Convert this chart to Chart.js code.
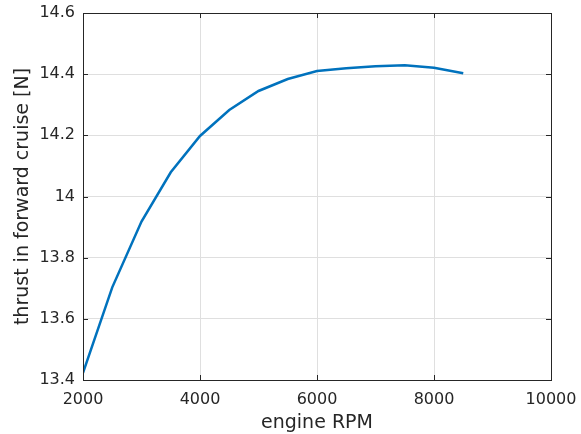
<!DOCTYPE html>
<html>
  <head>
    <title>thrust vs engine RPM</title>
    <script src="https://cdn.jsdelivr.net/npm/chart.js"></script>
    <style>
      body {
        margin: 0;
        padding: 0;
        background: #ffffff;
      }
      #wrap {
        width: 581px;
        height: 434px;
      }
    </style>
  </head>
  <body>
    <div id="wrap"><canvas id="myChart"></canvas></div>
    <script>
      // engine speed samples and resulting cruise thrust
      const rpm = [2000, 2500, 3000, 3500, 4000, 4500, 5000, 5500, 6000, 6500, 7000, 7500, 8000, 8500];
      const thrust = [13.423, 13.703, 13.918, 14.079, 14.198, 14.283, 14.345, 14.384, 14.410, 14.419, 14.426, 14.429, 14.421, 14.403];
      const xTicks = [2000, 4000, 6000, 8000, 10000];
      const yTicks = [13.4, 13.6, 13.8, 14, 14.2, 14.4, 14.6];

      const axisColor = "#262626";
      const fontFamily = "'DejaVu Sans', sans-serif";

      // box around the axes plus inward tick marks (matlab look)
      const boxPlugin = {
        id: "box",
        afterDraw(chart) {
          const { ctx, chartArea: a, scales } = chart;
          const len = 5;
          ctx.save();
          ctx.strokeStyle = axisColor;
          ctx.lineWidth = 1;
          ctx.beginPath();
          xTicks.forEach((v) => {
            const px = Math.round(scales.x.getPixelForValue(v)) + 0.5;
            ctx.moveTo(px, a.bottom);
            ctx.lineTo(px, a.bottom - len);
            ctx.moveTo(px, a.top);
            ctx.lineTo(px, a.top + len);
          });
          yTicks.forEach((v) => {
            const py = Math.round(scales.y.getPixelForValue(v)) + 0.5;
            ctx.moveTo(a.left, py);
            ctx.lineTo(a.left + len, py);
            ctx.moveTo(a.right, py);
            ctx.lineTo(a.right - len, py);
          });
          ctx.stroke();
          ctx.strokeRect(Math.round(a.left) + 0.5, Math.round(a.top) + 0.5,
            Math.round(a.right - a.left), Math.round(a.bottom - a.top));
          ctx.restore();
        },
      };

      const ctx = document.getElementById("myChart").getContext("2d");
      new Chart(ctx, {
        type: "line",
        data: {
          datasets: [
            {
              data: rpm.map((r, i) => ({ x: r, y: thrust[i] })),
              borderColor: "#0072BD",
              borderWidth: 2.5,
              pointRadius: 0,
              tension: 0,
              fill: false,
            },
          ],
        },
        options: {
          responsive: true,
          maintainAspectRatio: false,
          animation: false,
          layout: {
            padding: { left: 0, right: 30, top: 13, bottom: 0 },
          },
          plugins: {
            legend: { display: false },
            tooltip: { enabled: false },
          },
          scales: {
            x: {
              type: "linear",
              min: 2000,
              max: 10000,
              afterBuildTicks: (s) => {
                s.ticks = xTicks.map((v) => ({ value: v }));
              },
              afterFit: (s) => {
                s.height = 54;
                s.paddingLeft = 0;
                s.paddingRight = 0;
              },
              border: { display: false },
              grid: { color: "#dfdfdf", drawTicks: false },
              ticks: {
                color: axisColor,
                padding: 10,
                maxRotation: 0,
                font: { family: fontFamily, size: 16 },
                callback: (v) => String(v),
              },
              title: {
                display: true,
                text: "engine RPM",
                color: axisColor,
                font: { family: fontFamily, size: 19 },
                padding: { bottom: 0 },
              },
            },
            y: {
              type: "linear",
              min: 13.4,
              max: 14.6,
              afterBuildTicks: (s) => {
                s.ticks = yTicks.map((v) => ({ value: v }));
              },
              afterFit: (s) => {
                s.width = 83;
                s.paddingTop = 0;
                s.paddingBottom = 0;
              },
              border: { display: false },
              grid: { color: "#dfdfdf", drawTicks: false },
              ticks: {
                color: axisColor,
                padding: 8,
                font: { family: fontFamily, size: 16 },
                callback: (v) => String(Math.round(v * 10) / 10),
              },
              title: {
                display: true,
                text: "thrust in forward cruise [N]",
                color: axisColor,
                font: { family: fontFamily, size: 19 },
                padding: { top: 12 },
              },
            },
          },
        },
        plugins: [boxPlugin],
      });
    </script>
  </body>
</html>
